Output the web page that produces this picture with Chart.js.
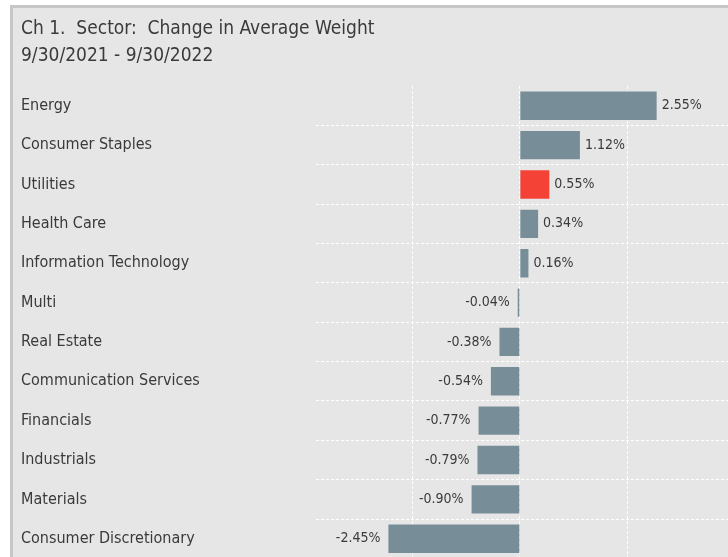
<!DOCTYPE html>
<html>
<head>
<meta charset="utf-8">
<script src="https://cdn.jsdelivr.net/npm/chart.js@4.4.0/dist/chart.umd.min.js"></script>
<style>
  body { margin: 0; background: #fff; overflow: hidden; }
  #frame {
    position: absolute; left: 10px; top: 5px;
    width: 730px; height: 570px;
    background: #e6e6e6;
    border-left: 3px solid #c6c6c6;
    border-top: 3px solid #c6c6c6;
  }
  #box { position: absolute; left: 0; top: 0; width: 715px; height: 560px; }
</style>
</head>
<body>
<div id="frame"><div id="box"><canvas id="chartSector"></canvas></div></div>
<script>
const sectors = ['Energy', 'Consumer Staples', 'Utilities', 'Health Care', 'Information Technology',
  'Multi', 'Real Estate', 'Communication Services', 'Financials', 'Industrials', 'Materials',
  'Consumer Discretionary'];
const weightChange = [2.55, 1.12, 0.55, 0.34, 0.16, -0.04, -0.38, -0.54, -0.77, -0.79, -0.90, -2.45];
const xTicks = [-2, 0, 2];
const highlight = 'Utilities';

const FONT = "'Liberation Sans Narrow', 'DejaVu Sans Condensed', sans-serif";
const TEXT = '#3a3a3a';

// labels at the end of each bar
const barLabels = {
    id: 'barLabels',
    afterDatasetsDraw(chart) {
        const ctx = chart.ctx;
        const meta = chart.getDatasetMeta(0);
        ctx.save();
        ctx.font = '14px ' + FONT;
        ctx.fillStyle = TEXT;
        ctx.textBaseline = 'middle';
        meta.data.forEach((bar, i) => {
            const v = weightChange[i];
            const txt = v.toFixed(2) + '%';
            if (v >= 0) {
                ctx.textAlign = 'left';
                ctx.fillText(txt, bar.x + 5, bar.y);
            } else {
                ctx.textAlign = 'right';
                ctx.fillText(txt, bar.x - 8, bar.y);
            }
        });
        ctx.restore();
    }
};

const ctx = document.getElementById('chartSector').getContext('2d');
new Chart(ctx, {
    type: 'bar',
    data: {
        labels: sectors,
        datasets: [{
            data: weightChange,
            backgroundColor: sectors.map(s => s === highlight ? '#f44336' : '#778e99'),
            categoryPercentage: 1,
            barPercentage: 0.72
        }]
    },
    options: {
        indexAxis: 'y',
        responsive: true,
        maintainAspectRatio: false,
        animation: false,
        layout: { padding: { left: 8, right: 0, top: 0, bottom: 0 } },
        plugins: {
            legend: { display: false },
            tooltip: { enabled: false },
            title: {
                display: true,
                align: 'start',
                text: ['Ch 1.  Sector:  Change in Average Weight', '9/30/2021 - 9/30/2022'],
                color: TEXT,
                font: { family: FONT, size: 19, weight: 'normal', lineHeight: 1.45 },
                padding: { top: 7, bottom: 16 }
            }
        },
        scales: {
            x: {
                min: -3.8,
                max: 3.88,
                afterBuildTicks: scale => { scale.ticks = xTicks.map(v => ({ value: v })); },
                ticks: { display: false },
                grid: { color: '#ffffff', lineWidth: 1, drawTicks: false },
                border: { display: false, dash: [3, 2] }
            },
            y: {
                afterFit: scale => { scale.width = 295; },
                ticks: {
                    crossAlign: 'far',
                    color: TEXT,
                    font: { family: FONT, size: 16 },
                    padding: 0
                },
                grid: {
                    offset: true,
                    drawTicks: false,
                    lineWidth: 1,
                    color: c => c.index === 0 ? 'rgba(0,0,0,0)' : '#ffffff'
                },
                border: { display: false, dash: [3, 2] }
            }
        }
    },
    plugins: [barLabels]
});
</script>
</body>
</html>
